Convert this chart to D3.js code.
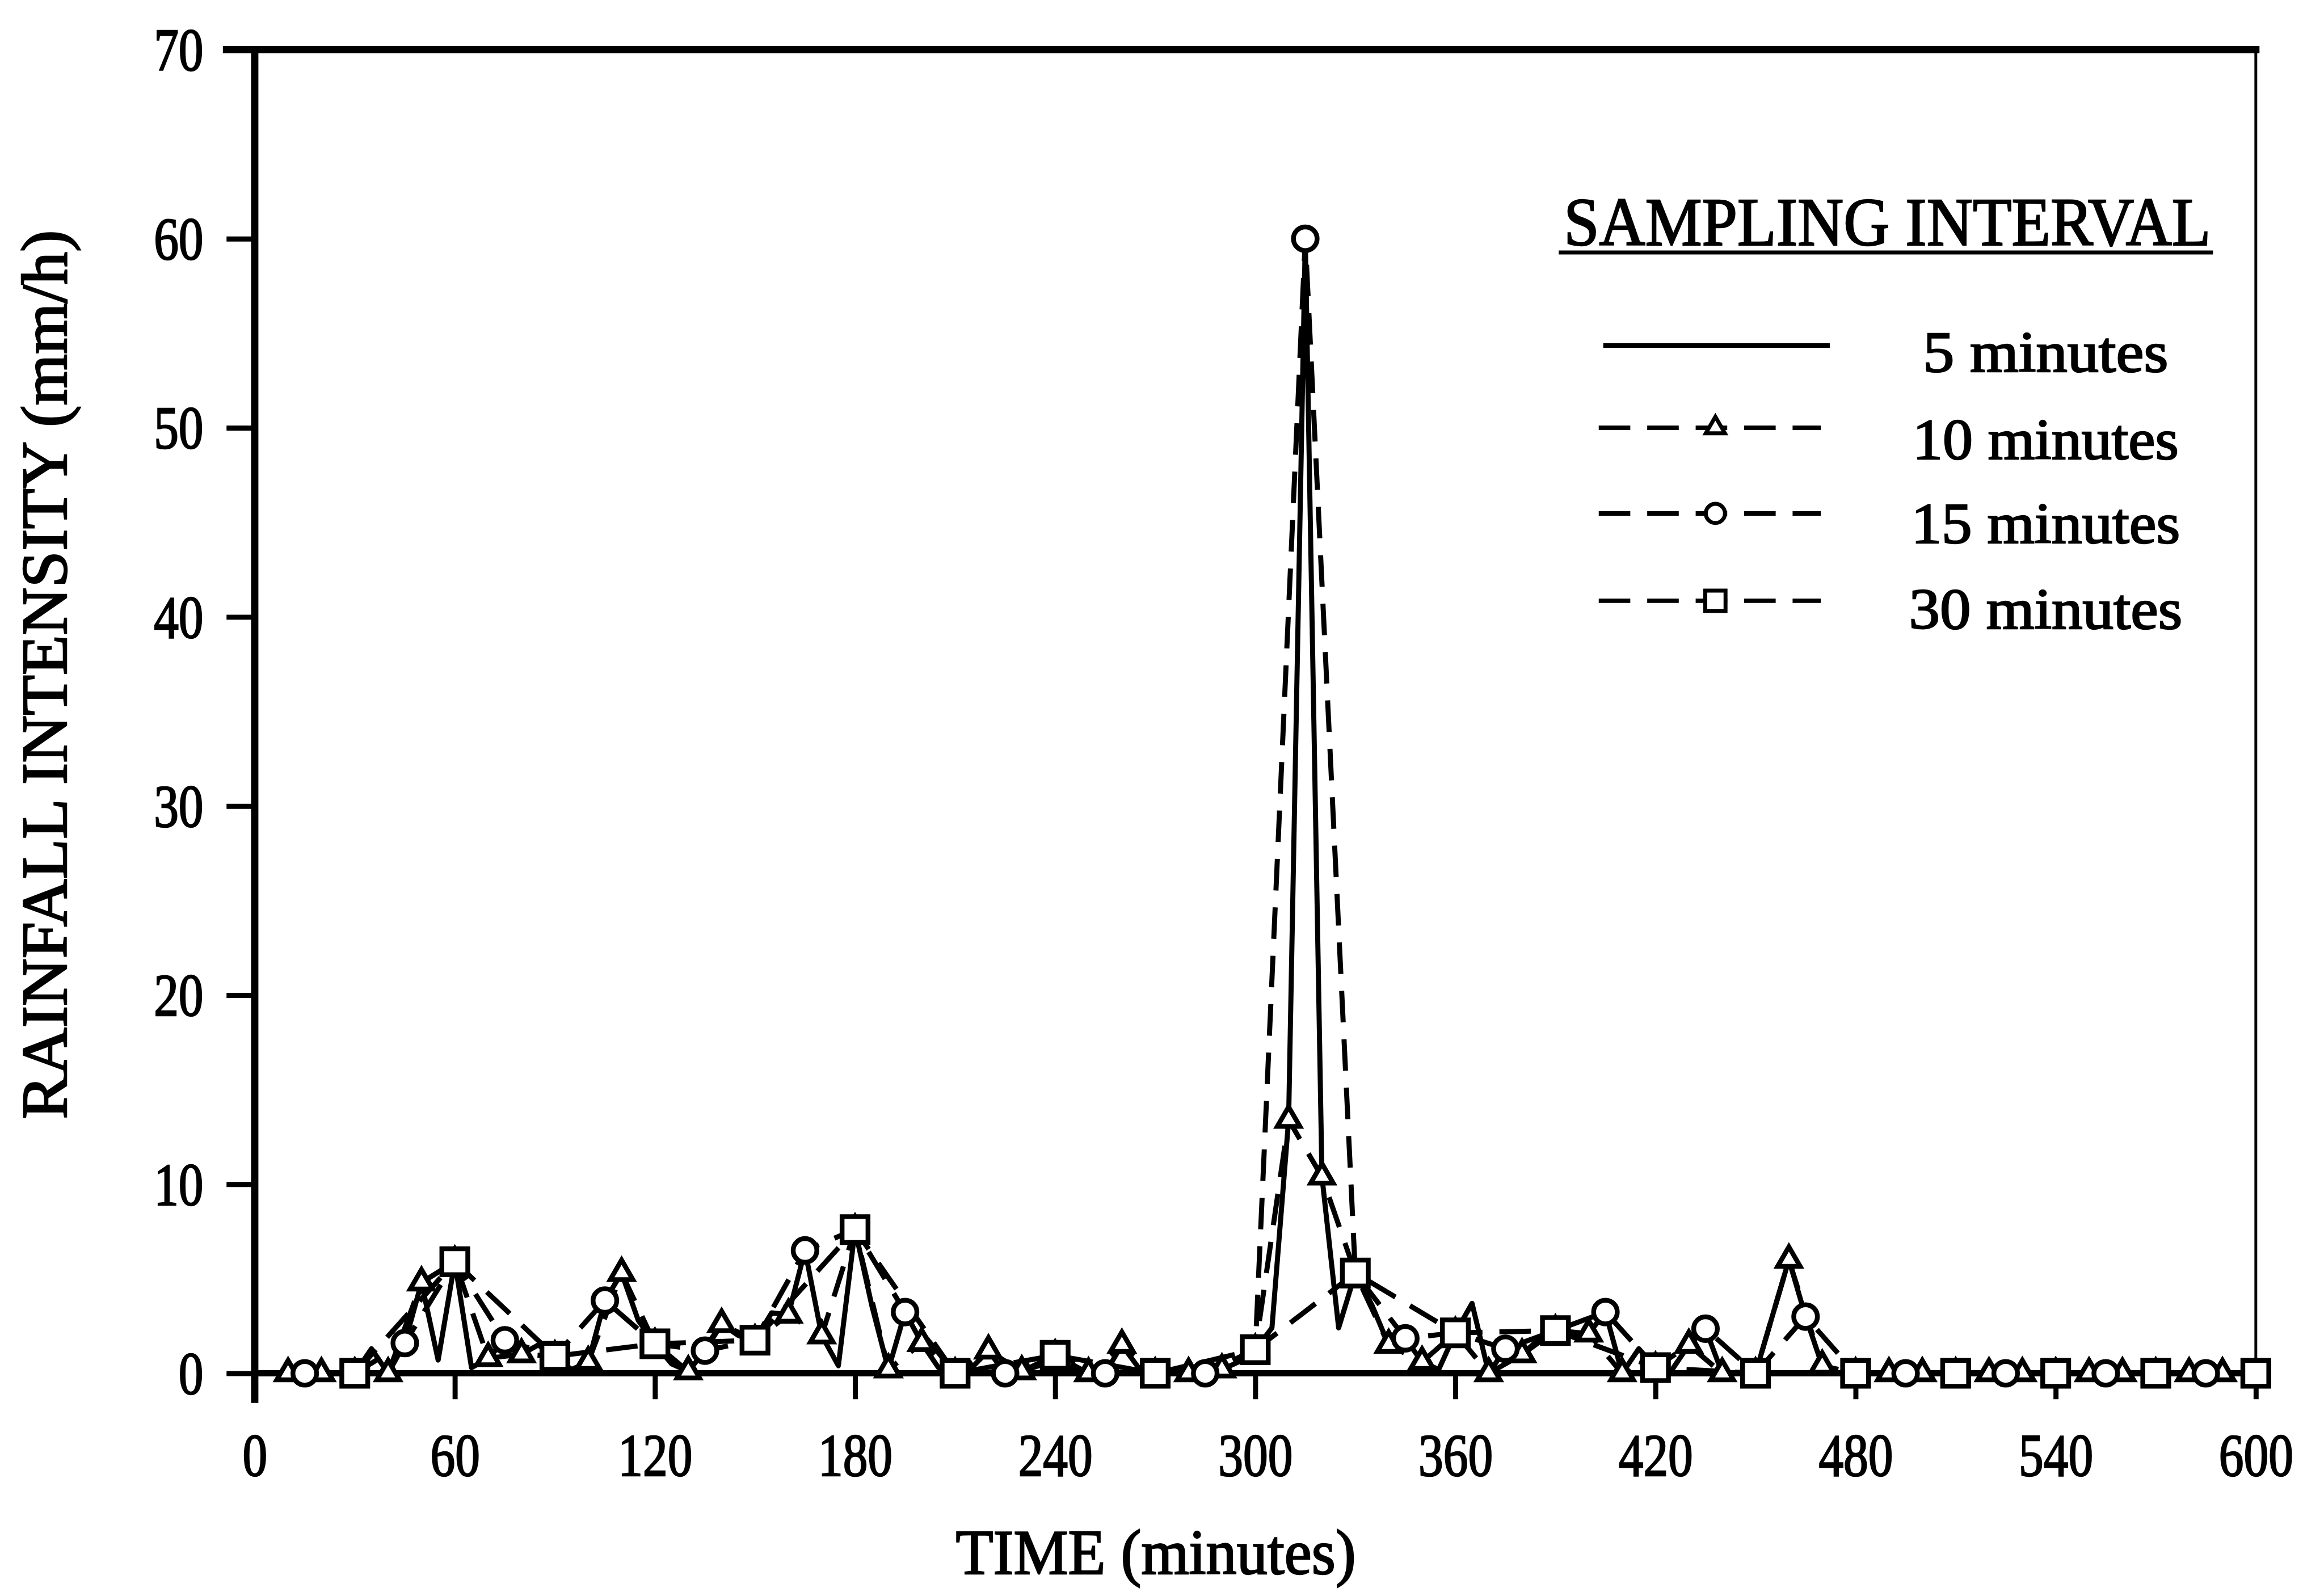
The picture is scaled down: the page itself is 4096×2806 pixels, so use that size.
<!DOCTYPE html>
<html><head><meta charset="utf-8">
<script src="https://cdn.jsdelivr.net/npm/d3@7"></script>
<style>
body{margin:0;background:#fff}
svg{display:block}
text{font-family:"Liberation Serif","Times New Roman",serif;fill:#000}
</style>
</head><body>
<svg id="c" width="4096" height="2806" viewBox="0 0 4124 2825"></svg>
<script>
// ---------------- data ----------------
const time5 = [0,5,10,15,20,25,30,35,40,45,50,55,60,65,70,75,80,85,90,95,100,105,110,115,120,125,130,135,140,145,150,155,160,165,170,175,180,185,190,195,200,205,210,215,220,225,230,235,240,245,250,255,260,265,270,275,280,285,290,295,300,305,310,315,320,325,330,335,340,345,350,355,360,365,370,375,380,385,390,395,400,405,410,415,420,425,430,435,440,445,450,455,460,465,470,475,480,485,490,495,500,505,510,515,520,525,530,535,540,545,550,555,560,565,570,575,580,585,590,595,600];
const rain5 = [0,0,0,0,0,0,0,1.3,0,1.6,4.8,0.7,5.9,0.3,0.8,1.75,1.0,1.5,0.9,0.2,0.6,3.85,5.3,2.8,1.56,0.5,0.1,1.2,2.6,2.0,1.75,3.2,3.1,6.5,2.0,0.4,7.6,3.6,0.2,3.24,1.6,0.3,0,0.3,1.2,0,0.1,0.4,0.95,0.2,0,0,1.5,0.3,0,0,0,0,0.2,0.6,1.25,2.4,13.4,60,10.4,2.4,5.3,3.6,1.5,1.85,0.6,0.2,2.14,3.7,0,1.3,1.0,1.8,2.26,2.0,2.1,3.24,0,1.3,0.3,0.2,1.5,2.36,0,0,0,3.0,6.0,3.0,0.4,0,0,0,0,0,0,0,0,0,0,0,0,0,0,0,0,0,0,0,0,0,0,0,0,0,0];

const time10 = [10,20,30,40,50,60,70,80,90,100,110,120,130,140,150,160,170,180,190,200,210,220,230,240,250,260,270,280,290,300,310,320,330,340,350,360,370,380,390,400,410,420,430,440,450,460,470,480,490,500,510,520,530,540,550,560,570,580,590,600];
const rain10 = [0,0,0,0,4.8,5.9,0.8,1.0,0.9,0.6,5.3,1.56,0.1,2.6,1.75,3.1,2.0,7.6,0.2,1.6,0,1.2,0.1,0.95,0,1.5,0,0,0.2,1.25,13.4,10.4,5.3,1.5,0.6,2.14,0,1.0,2.26,2.1,0,0.3,1.5,0,0,6.0,0.4,0,0,0,0,0,0,0,0,0,0,0,0,0];

const time15 = [15,30,45,60,75,90,105,120,135,150,165,180,195,210,225,240,255,270,285,300,315,330,345,360,375,390,405,420,435,450,465,480,495,510,525,540,555,570,585,600];
const rain15 = [0,0,1.6,5.9,1.75,0.9,3.85,1.56,1.2,1.75,6.5,7.6,3.24,0,0,0.95,0,0,0,1.25,60,5.3,1.85,2.14,1.3,2.26,3.24,0.3,2.36,0,3.0,0,0,0,0,0,0,0,0,0];

const time30 = [30,60,90,120,150,180,210,240,270,300,330,360,390,420,450,480,510,540,570,600];
const rain30 = [0,5.9,0.9,1.56,1.75,7.6,0,0.95,0,1.25,5.3,2.14,2.26,0.3,0,0,0,0,0,0];

const xTicks = [0,60,120,180,240,300,360,420,480,540,600];
const yTicks = [0,10,20,30,40,50,60,70];
const legendTitle = "SAMPLING INTERVAL";
const legendLabels = ["5 minutes","10 minutes","15 minutes","30 minutes"];
const xTitle = "TIME (minutes)";
const yTitle = "RAINFALL INTENSITY (mm/h)";

// ---------------- chart ----------------
const svg = d3.select("#c");
const FONT = '"Liberation Serif","Times New Roman",serif';
const L = 452, R = 4003, T = 88, B = 2437;
const x = d3.scaleLinear().domain([0,600]).range([L,R]);
const y = d3.scaleLinear().domain([0,70]).range([B,T]);
const DIGIT_W = 44;

// axes
const gy = svg.append("g").attr("transform",`translate(${L},0)`)
  .call(d3.axisLeft(y).tickValues(yTicks).tickSize(50).tickPadding(41).tickFormat(d3.format("d")));
gy.attr("font-family",FONT).attr("font-size",106);
gy.select(".domain").remove();
gy.selectAll(".tick line").attr("stroke","#000").attr("stroke-width",9);
gy.selectAll(".tick text").attr("fill","#000").attr("stroke","#000").attr("stroke-width",2.5).attr("dy","0.34em")
  .attr("textLength",d=>String(d).length*DIGIT_W).attr("lengthAdjust","spacingAndGlyphs");

const gx = svg.append("g").attr("transform",`translate(0,${B})`)
  .call(d3.axisBottom(x).tickValues(xTicks).tickSize(46).tickPadding(60).tickFormat(d3.format("d")));
gx.attr("font-family",FONT).attr("font-size",106);
gx.select(".domain").remove();
gx.selectAll(".tick line").attr("stroke","#000").attr("stroke-width",9);
gx.selectAll(".tick text").attr("fill","#000").attr("stroke","#000").attr("stroke-width",2.5)
  .attr("textLength",d=>String(d).length*DIGIT_W).attr("lengthAdjust","spacingAndGlyphs");

// frame
const frame = svg.append("g").attr("stroke","#000").attr("stroke-linecap","square");
frame.append("line").attr("x1",L-50).attr("x2",R).attr("y1",T).attr("y2",T).attr("stroke-width",13);
frame.append("line").attr("x1",L).attr("x2",L).attr("y1",T).attr("y2",B+46).attr("stroke-width",13);
frame.append("line").attr("x1",R).attr("x2",R).attr("y1",T).attr("y2",B).attr("stroke-width",5);
frame.append("line").attr("x1",L).attr("x2",R).attr("y1",B).attr("y2",B).attr("stroke-width",11);

// series lines
const line = d3.line().x(d=>x(d[0])).y(d=>y(d[1]));
const zip = (t,v)=>t.map((d,i)=>[d,v[i]]);
const s5 = zip(time5,rain5), s10 = zip(time10,rain10), s15 = zip(time15,rain15), s30 = zip(time30,rain30);
const dash = "56,30";
const lines = svg.append("g").attr("fill","none").attr("stroke","#000").attr("stroke-linejoin","round");
lines.append("path").datum(s30).attr("d",line).attr("stroke-width",9).attr("stroke-dasharray",dash);
lines.append("path").datum(s15).attr("d",line).attr("stroke-width",9).attr("stroke-dasharray",dash);
lines.append("path").datum(s10).attr("d",line).attr("stroke-width",9).attr("stroke-dasharray",dash);
lines.append("path").datum(s5).attr("d",line).attr("stroke-width",9);

// markers
const sym = (type,size)=>d3.symbol().type(type).size(size)();
const triPath = sym(d3.symbolTriangle, 0.433*40*40);
const cirPath = sym(d3.symbolCircle, Math.PI*21*21);
const sqPath = sym(d3.symbolSquare, 46*46);
const mk = svg.append("g").attr("fill","#fff").attr("stroke","#000").attr("stroke-width",8.5);
mk.selectAll(".tri").data(s10).join("path").attr("class","tri").attr("d",triPath)
  .attr("transform",d=>`translate(${x(d[0])},${y(d[1])})`);
mk.selectAll(".cir").data(s15).join("path").attr("class","cir").attr("d",cirPath)
  .attr("transform",d=>`translate(${x(d[0])},${y(d[1])})`);
mk.selectAll(".sq").data(s30).join("path").attr("class","sq").attr("d",sqPath)
  .attr("transform",d=>`translate(${x(d[0])},${y(d[1])})`);

// legend
const lg = svg.append("g");
lg.append("text").attr("x",3349).attr("y",435).attr("text-anchor","middle")
  .attr("font-size",121).attr("textLength",1148).attr("lengthAdjust","spacingAndGlyphs")
  .attr("stroke","#000").attr("stroke-width",2.5).text(legendTitle);
lg.append("line").attr("x1",2766).attr("x2",3927).attr("y1",448).attr("y2",448)
  .attr("stroke","#000").attr("stroke-width",7);
const rowY = [613,759,911,1066];
const baseY = [659,814,963,1115];
const labLen = [435,472,477,485];
const legMarks = [null, sym(d3.symbolTriangle,0.433*34*34), sym(d3.symbolCircle,Math.PI*17*17), sym(d3.symbolSquare,36*36)];
legendLabels.forEach((lab,i)=>{
  const ln = lg.append("line").attr("y1",rowY[i]).attr("y2",rowY[i]).attr("stroke","#000").attr("stroke-width",8);
  if(i===0){ ln.attr("x1",2845).attr("x2",3247); }
  else {
    ln.attr("x1",2837).attr("x2",3231).attr("stroke-dasharray",dash);
    lg.append("path").attr("d",legMarks[i]).attr("transform",`translate(3044,${rowY[i]})`)
      .attr("fill","#fff").attr("stroke","#000").attr("stroke-width",7);
  }
  lg.append("text").attr("x",3630).attr("y",baseY[i]).attr("text-anchor","middle")
    .attr("font-size",103).attr("textLength",labLen[i]).attr("lengthAdjust","spacingAndGlyphs")
    .attr("stroke","#000").attr("stroke-width",2.5).text(lab);
});

// axis titles
svg.append("text").attr("x",2051).attr("y",2793).attr("text-anchor","middle")
  .attr("font-size",112).attr("textLength",710).attr("lengthAdjust","spacingAndGlyphs")
  .attr("stroke","#000").attr("stroke-width",2.5).text(xTitle);
svg.append("text").attr("transform","translate(118,1197) rotate(-90)").attr("text-anchor","middle")
  .attr("font-size",115).attr("textLength",1578).attr("lengthAdjust","spacingAndGlyphs")
  .attr("stroke","#000").attr("stroke-width",2.5).text(yTitle);
</script>
</body></html>
